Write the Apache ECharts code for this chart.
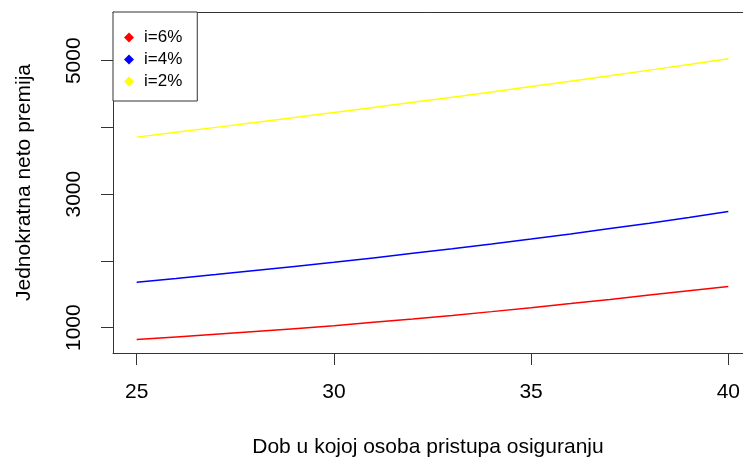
<!DOCTYPE html>
<html>
<head>
<meta charset="utf-8">
<script src="https://cdn.jsdelivr.net/npm/echarts@6/dist/echarts.min.js"></script>
<style>
html,body{margin:0;padding:0;background:#fff;}
#chart{width:743px;height:463px;}
</style>
</head>
<body>
<div id="chart"></div>
<script>
const ages = [25,26,27,28,29,30,31,32,33,34,35,36,37,38,39,40];
const premium6 = [822,860,900,942,985,1030,1080,1130,1183,1240,1299,1360,1423,1488,1552,1616];
const premium4 = [1682,1738,1795,1855,1917,1980,2045,2113,2182,2254,2328,2405,2484,2565,2650,2741];
const premium2 = [3855,3928,4001,4075,4149,4224,4300,4376,4453,4532,4612,4693,4775,4859,4944,5030];
const seriesNames = ['i=6%','i=4%','i=2%'];
const xTicks = [25,30,35,40];
const yTicks = [1000,2000,3000,4000,5000];
const yLabels = [1000,3000,5000];
const xTitle = 'Dob u kojoj osoba pristupa osiguranju';
const yTitle = 'Jednokratna neto premija';

const FONT = 'Liberation Sans, Arial, sans-serif';
const colors = ['#FF0000','#0000FF','#FFFF00'];
const allData = [premium6, premium4, premium2];
const X_MIN = 24.4, X_MAX = 40.37, Y_MIN = 620, Y_MAX = 5730;

const chart = echarts.init(document.getElementById('chart'), null, {renderer:'canvas'});
chart.setOption({
  animation:false,
  backgroundColor:'#fff',
  grid:{left:113, top:12, right:0, bottom:108, show:false},
  legend:{
    show:true, orient:'vertical', left:113, top:12,
    backgroundColor:'#fff', borderColor:'#333', borderWidth:1, borderRadius:0,
    padding:[17,15,11,11], itemGap:5, itemWidth:10, itemHeight:10,
    icon:'diamond',
    textStyle:{fontFamily:FONT, fontSize:17, color:'#000', lineHeight:16, padding:[0,0,0,5]},
    data: seriesNames.map((n,i)=>({name:n, itemStyle:{color:colors[i]}}))
  },
  xAxis:[{
    type:'value', min:X_MIN, max:X_MAX, position:'bottom',
    name:xTitle, nameLocation:'middle', nameGap:84,
    nameTextStyle:{fontFamily:FONT, fontSize:21, color:'#000'},
    axisLine:{show:true, onZero:false, lineStyle:{color:'#333', width:1}},
    axisTick:{show:true, inside:false, length:12, customValues:xTicks, lineStyle:{color:'#333'}},
    axisLabel:{show:true, margin:29, fontFamily:FONT, fontSize:21, color:'#000', customValues:xTicks,
      formatter:v=>String(v)},
    splitLine:{show:false}
  },{
    type:'value', min:X_MIN, max:X_MAX, position:'top',
    axisLine:{show:true, onZero:false, lineStyle:{color:'#333', width:1}},
    axisTick:{show:false}, axisLabel:{show:false}, splitLine:{show:false}
  }],
  yAxis:{
    type:'value', min:Y_MIN, max:Y_MAX,
    name:yTitle, nameLocation:'middle', nameGap:78, nameRotate:90,
    nameTextStyle:{fontFamily:FONT, fontSize:21, color:'#000'},
    axisLine:{show:true, onZero:false, lineStyle:{color:'#333', width:1}},
    axisTick:{show:true, inside:false, length:12, customValues:yTicks, lineStyle:{color:'#333'}},
    axisLabel:{show:true, rotate:90, margin:28, fontFamily:FONT, fontSize:21, color:'#000', customValues:yLabels,
      formatter:v=>String(v)},
    splitLine:{show:false}
  },
  series: seriesNames.map((n,i)=>({
    name:n, type:'line', symbol:'none', smooth:false, xAxisIndex:0,
    lineStyle:{color:colors[i], width:1.5},
    itemStyle:{color:colors[i]},
    data: ages.map((a,k)=>[a, allData[i][k]])
  }))
});
</script>
</body>
</html>
